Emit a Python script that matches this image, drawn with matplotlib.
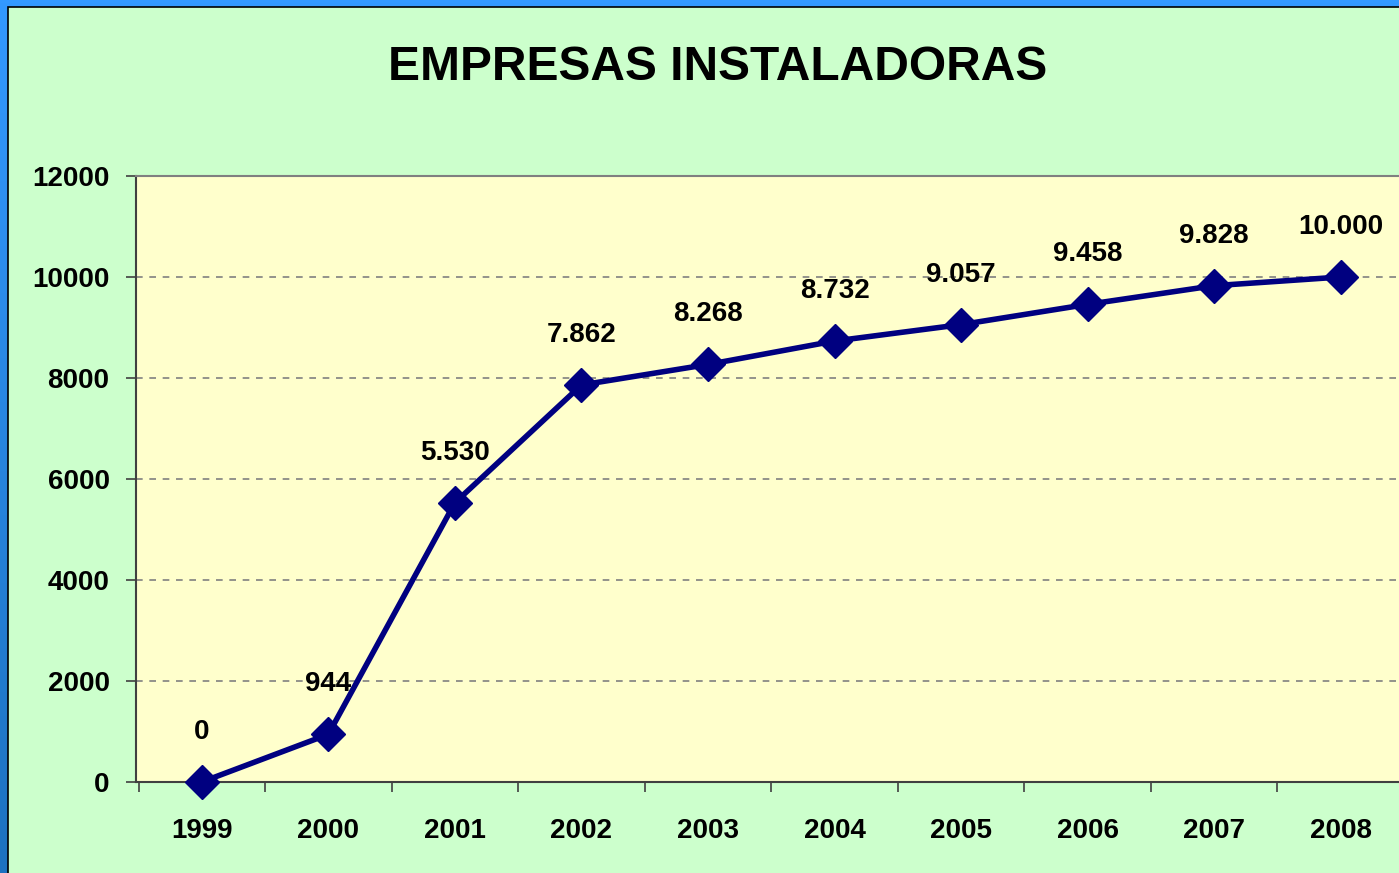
import numpy as np
import matplotlib
matplotlib.use("Agg")
import matplotlib.pyplot as plt
from matplotlib.patches import Rectangle

plt.rcParams['font.family'] = ['Liberation Sans', 'DejaVu Sans']
plt.rcParams['font.weight'] = 'bold'

years = ['1999', '2000', '2001', '2002', '2003', '2004', '2005', '2006', '2007', '2008']
empresas = [0, 944, 5530, 7862, 8268, 8732, 9057, 9458, 9828, 10000]
etiquetas = ['0', '944', '5.530', '7.862', '8.268', '8.732', '9.057', '9.458', '9.828', '10.000']

W, H = 1399, 873
fig = plt.figure(figsize=(W / 100, H / 100), dpi=100)

# fondo azul con degradado
bg = fig.add_axes([0, 0, 1, 1], zorder=-10)
grad = np.linspace(0, 1, 256).reshape(-1, 1)
cmap = matplotlib.colors.LinearSegmentedColormap.from_list('az', ['#3399ff', '#1d72c0'])
bg.imshow(grad, aspect='auto', cmap=cmap, extent=[0, 1, 0, 1], origin='upper')
bg.set_axis_off()
# area del grafico verde
bg.add_patch(Rectangle((8 / W, -0.01), 1.0, 1 - 7 / H + 0.01, transform=bg.transAxes,
                       facecolor='#ccffcc', edgecolor='black', linewidth=1.2))

left, right, top, bottom = 136, 1404, 176, 782
ax = fig.add_axes([left / W, 1 - bottom / H, (right - left) / W, (bottom - top) / H])
ax.set_facecolor('#ffffcc')

x = np.arange(len(years))
ax.plot(x, empresas, color='#000080', linewidth=4, marker='D', markersize=17,
        markerfacecolor='#000080', markeredgecolor='#000080', zorder=3, clip_on=False)

for xi, v, t in zip(x, empresas, etiquetas):
    ax.annotate(t, (xi, v), xytext=(0, 36), textcoords='offset points',
                ha='center', va='center', fontsize=20, fontweight='bold')

ax.set_xlim(-0.52, 9.5)
ax.set_ylim(0, 12000)
ax.set_yticks(range(0, 12001, 2000))
ax.set_xticks(x)
ax.set_xticklabels(years)
ax.set_xticks(np.arange(-0.5, 10, 1), minor=True)
ax.tick_params(axis='x', which='major', length=0, pad=26, labelsize=20)
ax.tick_params(axis='x', which='minor', length=7, color='#404040', width=1.2)
ax.tick_params(axis='y', length=7, color='#404040', width=1.2, pad=12, labelsize=20)

ax.yaxis.grid(True, linestyle=(0, (4, 4)), color='#808080', linewidth=1.2)
ax.set_axisbelow(True)
for s in ['left', 'bottom']:
    ax.spines[s].set_color('#404040')
    ax.spines[s].set_linewidth(1.5)
ax.spines['top'].set_color('#808080')
ax.spines['top'].set_linewidth(1.5)
ax.spines['right'].set_visible(False)

fig.text(718 / W, 1 - 68 / H, 'EMPRESAS INSTALADORAS', ha='center', va='center',
         fontsize=34.5, fontweight='bold')

fig.savefig('out.png', dpi=100)
